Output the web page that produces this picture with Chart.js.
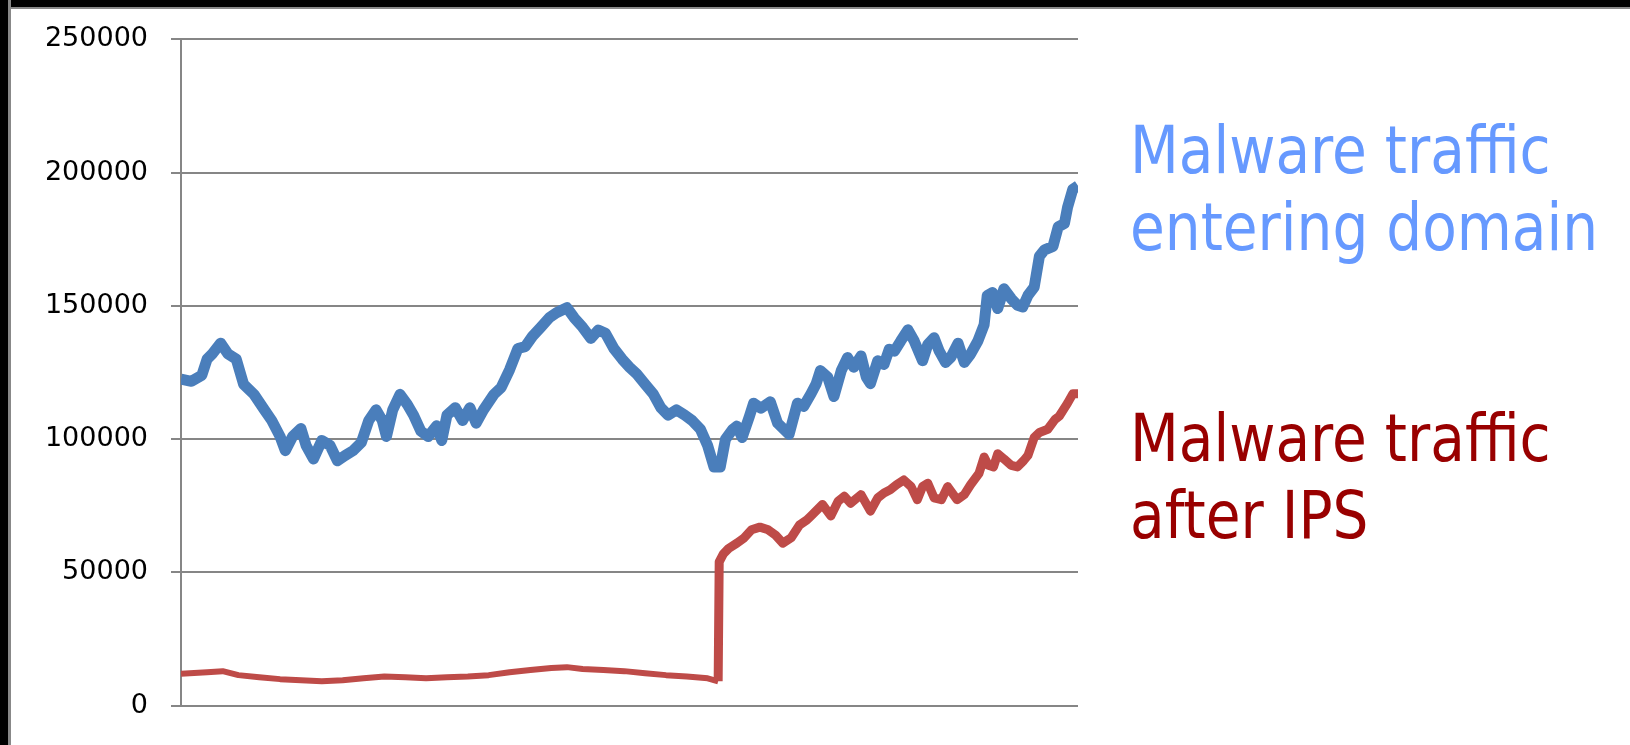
<!DOCTYPE html>
<html>
<head>
<meta charset="utf-8">
<script src="https://cdn.jsdelivr.net/npm/chart.js@4"></script>
<style>
  html, body { margin: 0; padding: 0; background: #fff; }
  body { width: 1630px; height: 745px; position: relative; overflow: hidden; }
  #chart-wrap { position: absolute; left: 0; top: 0; width: 1100px; height: 745px; }
  .edge { position: absolute; background: #000; }
  .edge-top { left: 0; top: 0; width: 1630px; height: 7px; border-bottom: 2px solid #888; }
  .edge-left { left: 0; top: 0; width: 8px; height: 745px; border-right: 3px solid #888; }
  .label {
    position: absolute;
    left: 1130px;
    font-family: 'DejaVu Sans', sans-serif;
    font-size: 65px;
    line-height: 77px;
    white-space: nowrap;
    transform: scaleX(0.87);
    transform-origin: 0 0;
  }
  #label-in { top: 112px; color: #6699ff; }
  #label-out { top: 400px; color: #990000; }
</style>
</head>
<body>
<div id="chart-wrap"><canvas id="traffic-chart" width="1100" height="745"></canvas></div>
<div class="edge edge-top"></div>
<div class="edge edge-left"></div>
<div class="label" id="label-in">Malware traffic<br>entering domain</div>
<div class="label" id="label-out">Malware traffic<br>after IPS</div>

<script>
// traffic entering the domain
const inSample = [
  0, 10, 20, 25, 30, 38, 45, 53, 60, 70, 80, 87, 95, 100, 107, 115, 120, 127, 135, 143,
  150, 157, 165, 173, 180, 187, 193, 197, 203, 210, 217, 223, 230, 237, 245, 250, 255, 263, 270, 277,
  283, 290, 300, 307, 315, 323, 330, 337, 345, 353, 360, 370, 377, 385, 393, 400, 407, 415, 423, 430,
  437, 445, 453, 460, 467, 475, 483, 490, 498, 505, 511, 517, 522, 529, 533, 538, 545, 549, 556, 565,
  572, 583, 591, 597, 604, 609, 613, 620, 626, 633, 639, 645, 652, 657, 661, 668, 674, 679, 684, 690,
  697, 703, 711, 716, 722, 727, 733, 738, 745, 751, 757, 764, 770, 773, 778, 783, 789, 796, 802, 807,
  812, 818, 823, 828, 836, 841, 847, 850, 855, 860
];
const inValue = [
  122500, 121700, 124000, 130000, 132000, 136000, 132000, 130000, 120600, 116800, 111000, 107000, 101000, 95700, 101000, 104000, 97600, 92600, 99500, 97600,
  91900, 93800, 95700, 98800, 107000, 111000, 107000, 101000, 111000, 116800, 113000, 109000, 103000, 101000, 105000, 99500, 109000, 111800, 107000, 111800,
  106000, 111000, 116800, 119400, 126000, 134000, 134700, 138600, 142000, 145500, 147400, 149300, 145500, 142000, 137800, 140900, 139700, 134000, 130000, 127000,
  124400, 120600, 116800, 111800, 109000, 111000, 109000, 107000, 103700, 97500, 89600, 89600, 100000, 103700, 104900, 100600, 108600, 113500, 111600, 114000,
  106000, 101800, 113500, 112300, 117000, 120800, 125700, 123300, 116000, 125700, 130600, 127000, 131200, 123300, 120800, 129400, 128000, 133700, 133000, 136800,
  141000, 136800, 129400, 135500, 138000, 133000, 128800, 130600, 136000, 128800, 131900, 136800, 142900, 153900, 155000, 149000, 156400, 152700, 150200, 149600,
  153900, 157000, 168600, 171000, 172300, 179600, 180900, 187000, 193700, 195000
];

// traffic left after the IPS
const outSample = [
  0, 25, 40, 55, 75, 95, 115, 135, 155, 175, 195, 215, 235, 255, 275, 295, 315, 335, 355, 370,
  385, 405, 425, 445, 465, 485, 505, 515, 516, 520, 525, 533, 540, 547, 555, 563, 570, 577, 585, 593,
  600, 604, 615, 623, 630, 636, 642, 652, 661, 668, 674, 680, 686, 693, 700, 706, 711, 716, 722, 729,
  735, 744, 751, 757, 765, 770, 774, 779, 783, 789, 796, 802, 808, 812, 818, 823, 831, 838, 842, 850,
  855, 861
];
const outValue = [
  12000, 12600, 13000, 11500, 10700, 10000, 9600, 9200, 9600, 10300, 11000, 10700, 10300, 10700, 11000, 11500, 12600, 13400, 14200, 14500,
  13800, 13400, 13000, 12200, 11500, 11000, 10300, 9200, 54000, 57000, 59000, 61000, 63000, 66000, 67000, 66000, 64000, 61000, 63000, 67800,
  69700, 71200, 75500, 71200, 76700, 78600, 76000, 79200, 73000, 78000, 79800, 81000, 82900, 84700, 82200, 77300, 82200, 83500, 78000, 77300,
  82200, 77300, 79200, 82900, 87100, 93300, 90200, 89600, 94500, 92600, 90200, 89600, 92000, 93900, 100600, 102500, 103700, 107400, 108600, 113500,
  117000, 117000
];

const yTicks = [0, 50000, 100000, 150000, 200000, 250000];

const JUMP_AT = 516;

function toPoints(xs, ys) {
  return xs.map((x, i) => ({ x, y: ys[i] }));
}

const gridGray = '#868686';

new Chart(document.getElementById('traffic-chart'), {
  type: 'line',
  data: {
    datasets: [
      {
        label: 'Malware traffic entering domain',
        data: toPoints(inSample, inValue),
        borderColor: '#4a7ebb',
        borderWidth: 11,
        borderJoinStyle: 'round',
        pointRadius: 0,
        tension: 0,
      },
      {
        label: 'Malware traffic after IPS',
        data: toPoints(outSample, outValue),
        borderColor: '#be4b48',
        borderWidth: 9,
        borderJoinStyle: 'round',
        pointRadius: 0,
        tension: 0,
        segment: {
          borderWidth: (ctx) => (ctx.p1.parsed.x < JUMP_AT ? 6 : 9),
        },
      },
    ],
  },
  options: {
    responsive: false,
    animation: false,
    layout: { padding: { left: 0, top: 39, right: 22, bottom: 27 } },
    plugins: { legend: { display: false }, tooltip: { enabled: false } },
    scales: {
      x: { type: 'linear', min: 0, max: 860, display: false },
      y: {
        min: yTicks[0],
        max: yTicks[yTicks.length - 1],
        afterFit: (scale) => { scale.width = 181; },
        afterBuildTicks: (scale) => { scale.ticks = yTicks.map((v) => ({ value: v })); },
        ticks: {
          padding: 23,
          color: '#000',
          font: { family: 'DejaVu Sans', size: 27 },
          callback: (v) => String(v),
        },
        grid: { color: gridGray, lineWidth: 2, tickLength: 10 },
        border: { color: gridGray, width: 2 },
      },
    },
  },
});
</script>
</body>
</html>
